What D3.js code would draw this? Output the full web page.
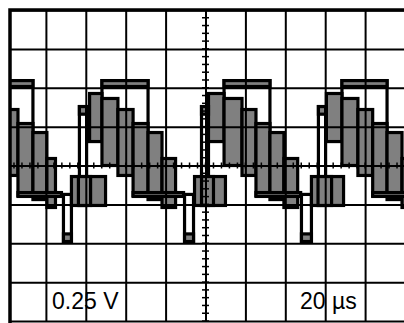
<!DOCTYPE html>
<html>
<head>
<meta charset="utf-8">
<script src="https://cdn.jsdelivr.net/npm/d3@7"></script>
<style>
  html, body { margin: 0; padding: 0; background: #fff; }
  svg { display: block; }
</style>
</head>
<body>
<div id="scope"></div>
<script>
// time in µs, level in V; each shape is [tStart, tEnd, vLow, vHigh]
const topFrames = [[-10, 13.5, 0.2, 0.546], [48.1, 71.2, 0.2, 0.546], [109.3, 132.3, 0.2, 0.546], [168.4, 191, 0.2, 0.546]];
const topBars = [[-10, 13.5, 0.508, 0.546], [48.1, 71.2, 0.508, 0.546], [109.3, 132.3, 0.508, 0.546], [168.4, 191, 0.508, 0.546]];
const lowerBoxes = [[32.8, 49.9, -0.257, -0.071], [94.5, 110, -0.257, -0.071], [153.1, 169.2, -0.257, -0.071]];
const lowerInner = [[36.3, 42.4, -0.257, -0.071], [98, 104, -0.257, -0.071], [156.4, 163.2, -0.257, -0.071]];
const risersUp = [[36.8, 40.4, -0.257, 0.379], [98, 101.5, -0.257, 0.379], [156.6, 160.2, -0.257, 0.379]];
const capsUp = [[36.8, 40.4, 0.33, 0.379], [98, 101.5, 0.33, 0.379], [156.6, 160.2, 0.33, 0.379]];
const risersDown = [[28.8, 32.8, -0.489, -0.186], [89.5, 94, -0.489, -0.186], [148.1, 153.1, -0.489, -0.186]];
const capsDown = [[28.8, 32.8, -0.489, -0.44], [89.5, 94, -0.489, -0.44], [148.1, 153.1, -0.489, -0.44]];
const steps = [
  [-10, -1.5, 0.0, 0.431], [-1.5, 6, -0.064, 0.36], [6, 13.5, -0.193, 0.27],
  [13.5, 20.5, -0.219, 0.212], [20.5, 24.8, -0.27, 0.045],
  [41.9, 48.1, 0.154, 0.463], [48.1, 56.1, 0.0, 0.431], [56.1, 63.7, -0.064, 0.36],
  [63.7, 71.2, -0.193, 0.27], [71.2, 78.2, -0.219, 0.212], [78.2, 85, -0.27, 0.045],
  [101.5, 109.3, 0.154, 0.463], [109.3, 118.3, 0.0, 0.431], [118.3, 125.3, -0.064, 0.36],
  [125.3, 132.3, -0.193, 0.27], [132.3, 139.3, -0.219, 0.212], [139.3, 146.2, -0.27, 0.045],
  [160.6, 168.4, 0.154, 0.463], [168.4, 176.4, 0.0, 0.431], [176.4, 183.8, -0.064, 0.36],
  [183.8, 191, -0.193, 0.27], [191, 198.5, -0.219, 0.212], [198.5, 206, -0.27, 0.045]
];
const bottomBars = [[6, 27.8, -0.199, -0.174], [63.7, 89, -0.199, -0.174], [125.3, 147.7, -0.199, -0.174], [183.8, 207, -0.199, -0.174]];

const divT = [0, 20, 40, 60, 80, 100, 120, 140, 160, 180, 200];
const divV = [-1, -0.75, -0.5, -0.25, 0, 0.25, 0.5, 0.75, 1];
const scaleLabels = ['0.25 V', '20 µs'];

const width = 404;
const height = 323;
const gray = '#808080';

const svg = d3.select('#scope')
  .append('svg')
  .attr('width', width)
  .attr('height', height);

const x = d3.scaleLinear().domain([0, 200]).range([6, 405]);
const y = d3.scaleLinear().domain([-1, 1]).range([321, 10]);

svg.append('clipPath').attr('id', 'screen')
  .append('rect')
  .attr('x', 10).attr('y', 10)
  .attr('width', width).attr('height', height);

const screen = svg.append('g').attr('clip-path', 'url(#screen)');

function boxes(data, fill) {
  screen.append('g')
    .selectAll('rect')
    .data(data)
    .join('rect')
      .attr('x', d => x(d[0]))
      .attr('y', d => y(d[3]))
      .attr('width', d => x(d[1]) - x(d[0]))
      .attr('height', d => y(d[2]) - y(d[3]))
      .attr('fill', fill)
      .attr('stroke', '#000')
      .attr('stroke-width', 3.2);
}

boxes(topFrames, 'none');
boxes(risersUp, 'none');
boxes(risersDown, 'none');
boxes(lowerBoxes, gray);
boxes(lowerInner, gray);
boxes(steps, gray);
boxes(topBars, gray);
boxes(bottomBars, gray);
boxes(capsUp, gray);
boxes(capsDown, gray);

// graticule
screen.append('g')
  .attr('transform', `translate(0,${y(1)})`)
  .call(d3.axisBottom(x).tickValues(divT).tickSize(y(-1) - y(1)).tickFormat(''))
  .call(g => g.select('.domain').remove())
  .call(g => g.selectAll('line').attr('stroke', '#000').attr('stroke-width', 2));

screen.append('g')
  .attr('transform', `translate(${x(0)},0)`)
  .call(d3.axisRight(y).tickValues(divV).tickSize(x(200) - x(0)).tickFormat(''))
  .call(g => g.select('.domain').remove())
  .call(g => g.selectAll('line').attr('stroke', '#000').attr('stroke-width', 2));

// minor ticks on the centre lines
const minorT = d3.range(0, 200.01, 4);
const minorV = d3.range(-1, 1.001, 0.05);

screen.append('g')
  .selectAll('line')
  .data(minorT)
  .join('line')
    .attr('x1', d => x(d)).attr('x2', d => x(d))
    .attr('y1', y(0) - 3).attr('y2', y(0) + 3)
    .attr('stroke', '#000').attr('stroke-width', 1.5);

screen.append('g')
  .selectAll('line')
  .data(minorV)
  .join('line')
    .attr('x1', x(100) - 3.5).attr('x2', x(100) + 3.5)
    .attr('y1', d => y(d)).attr('y2', d => y(d))
    .attr('stroke', '#000').attr('stroke-width', 1.5);

// frame
svg.append('path')
  .attr('d', `M10,${height + 5}V10H${width + 5}`)
  .attr('fill', 'none')
  .attr('stroke', '#000')
  .attr('stroke-width', 3.5);

svg.append('g')
  .selectAll('text')
  .data(scaleLabels)
  .join('text')
    .attr('x', (d, i) => i === 0 ? 52 : 300)
    .attr('y', 309)
    .attr('font-family', '"Liberation Sans", Arial, sans-serif')
    .attr('font-size', 23)
    .attr('fill', '#000')
    .text(d => d);
</script>
</body>
</html>
